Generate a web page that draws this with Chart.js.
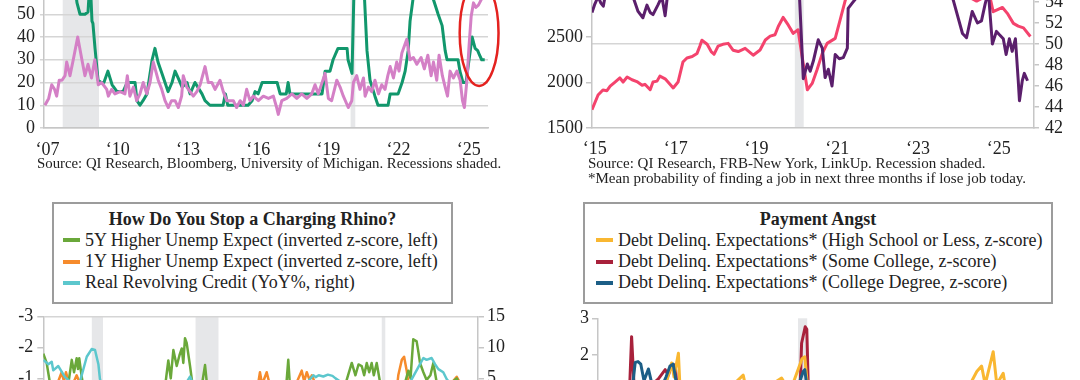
<!DOCTYPE html>
<html>
<head>
<meta charset="utf-8">
<script src="https://cdn.jsdelivr.net/npm/chart.js@4.4.0/dist/chart.umd.min.js"></script>
<style>
  html, body { margin: 0; padding: 0; background: #fff; }
  body { position: relative; width: 1080px; height: 380px; overflow: hidden; font-family: "Liberation Serif", serif; color: #222; }
  .pane { position: absolute; }
  .src { position: absolute; font-size: 15px; line-height: 14.5px; white-space: nowrap; color: #222; }
  .box { position: absolute; box-sizing: border-box; border: 2px solid #9c9c9c; background: #fff; padding-top: 4.5px; font-size: 18px; line-height: 21.3px; white-space: nowrap; }
  .box .ttl { text-align: center; font-weight: bold; }
  .box .item { display: flex; align-items: center; }
  .box .sw { display: inline-block; width: 17px; height: 4px; margin-right: 5px; }
</style>
</head>
<body>

<div class="pane" style="left:0; top:-80px;"><canvas id="chartUncert" width="540" height="260"></canvas></div>
<div class="pane" style="left:540px; top:-80px;"><canvas id="chartJobs" width="540" height="260"></canvas></div>
<div class="pane" style="left:0; top:300px;"><canvas id="chartRhino" width="540" height="230"></canvas></div>
<div class="pane" style="left:540px; top:300px;"><canvas id="chartAngst" width="540" height="230"></canvas></div>

<div class="src" style="left:37px; top:156px; font-size:14.8px;">Source: QI Research, Bloomberg, University of Michigan. Recessions shaded.</div>
<div class="src" style="left:588px; top:156px;">Source: QI Research, FRB-New York, LinkUp. Recession shaded.<br>*Mean probability of finding a job in next three months if lose job today.</div>

<div class="box" style="left:52px; top:202px; width:401px; height:102px;">
  <div class="ttl">How Do You Stop a Charging Rhino?</div>
  <div class="item" style="padding-left:9px;"><span class="sw" style="background:#6aa83a"></span>5Y Higher Unemp Expect (inverted z-score, left)</div>
  <div class="item" style="padding-left:9px;"><span class="sw" style="background:#f68b2c"></span>1Y Higher Unemp Expect (inverted z-score, left)</div>
  <div class="item" style="padding-left:9px;"><span class="sw" style="background:#5cc7cd"></span>Real Revolving Credit (YoY%, right)</div>
</div>

<div class="box" style="left:583px; top:202px; width:470px; height:102px;">
  <div class="ttl">Payment Angst</div>
  <div class="item" style="padding-left:11px;"><span class="sw" style="background:#f9b731"></span>Debt Delinq. Expectations* (High School or Less, z-score)</div>
  <div class="item" style="padding-left:11px;"><span class="sw" style="background:#a8213b"></span>Debt Delinq. Expectations* (Some College, z-score)</div>
  <div class="item" style="padding-left:11px;"><span class="sw" style="background:#1c5e86"></span>Debt Delinq. Expectations* (College Degree, z-score)</div>
</div>

<script>
// ---- top left: uncertainty measures ----
const uncertTicks = [2007, 2010, 2013, 2016, 2019, 2022, 2025];
const uncertRecessions = [[2007.65, 2009.2], [2019.95, 2020.15]];
const circleCenter = [2025.44, 41.8];
const circleRadius = [0.83, 23.3];

const greenYears = [
  2008.17,2008.26,2008.39,2008.6,2008.73,2008.82,2008.9,2008.94,2009.03,2009.16,
  2009.29,2009.41,2009.58,2009.76,2009.97,2010.23,2010.4,2010.61,2010.74,2010.82,
  2010.95,2011.08,2011.25,2011.47,2011.59,2011.72,2011.89,2012.02,2012.15,2012.32,
  2012.45,2012.58,2012.75,2012.96,2013.09,2013.3,2013.6,2013.73,2013.94,2014.5,
  2014.6,2014.7,2015.44,2015.57,2015.74,2015.87,2016.0,2016.17,2016.81,2016.94,
  2017.2,2017.28,2017.36,2018.73,2018.86,2019.07,2019.2,2019.41,2019.8,2019.84,
  2020.01,2020.05,2020.15,2020.35,2020.53,2020.65,2020.78,2020.99,2021.12,2021.55,
  2021.64,2021.98,2022.15,2022.28,2022.41,2022.49,2022.62,2022.8,2023.1,2023.3,
  2023.47,2023.69,2023.86,2023.99,2024.07,2024.54,2024.62,2024.75,2024.88,2025.14,
  2025.27,2025.38,2025.46,2025.55,2025.68
];
const greenVals = [
  62,55,50,50,51,66,47,46,35,21,
  20,20,25,19,16,16,20,20,20,12,
  10,12,15,30,35,29,24,20,16,20,
  25,22,18,20,15,20,15,12,10,10,
  15,10,10,10,12,16,15,20,20,15,
  15,20,15,15,25,25,30,35,35,30,
  24,24,85,90,60,34,21,14,10,10,
  15,15,20,25,34,47,57,70,72,65,
  57,50,45,34,30,30,25,20,20,40,
  35,34,32,30,30
];

const pinkYears = [
  2006.89,2007.05,2007.18,2007.3,2007.39,2007.5,2007.62,2007.75,2007.82,2007.96,
  2008.1,2008.29,2008.47,2008.6,2008.73,2008.88,2009.02,2009.17,2009.31,2009.53,
  2009.6,2009.74,2009.88,2010.1,2010.31,2010.41,2010.52,2010.67,2010.81,2010.95,
  2011.09,2011.24,2011.38,2011.52,2011.73,2011.88,2012.02,2012.16,2012.3,2012.45,
  2012.59,2012.73,2012.8,2012.95,2013.09,2013.23,2013.38,2013.52,2013.73,2013.87,
  2014.02,2014.16,2014.37,2014.51,2014.66,2014.8,2014.94,2015.08,2015.23,2015.37,
  2015.51,2015.65,2015.79,2016.01,2016.22,2016.44,2016.65,2016.79,2016.86,2017.01,
  2017.22,2017.44,2017.65,2017.86,2018.08,2018.29,2018.43,2018.57,2018.86,2019.0,
  2019.14,2019.36,2019.5,2019.64,2019.85,2020.0,2020.07,2020.21,2020.35,2020.5,
  2020.57,2020.71,2020.85,2020.99,2021.14,2021.28,2021.42,2021.54,2021.64,2021.78,
  2021.92,2022.02,2022.14,2022.35,2022.49,2022.63,2022.78,2022.96,2023.1,2023.25,
  2023.39,2023.49,2023.63,2023.73,2023.87,2023.99,2024.09,2024.2,2024.34,2024.49,
  2024.63,2024.73,2024.81,2024.92,2025.01,2025.1,2025.2,2025.3,2025.41,2025.56,
  2025.62
];
const pinkVals = [
  10,13,19,17,14,21,21,23,29,23,
  30,40,30,23,28,22,30,19,20,17,
  14,17,15,16,15,23,14,18,12,15,
  20,15,20,29,21,17,12,9,12,12,
  9,14,23,18,16,14,16,19,27,20,
  20,17,21,16,12,12,12,9,12,10,
  17,12,14,12,14,13,14,9,6,12,
  13,15,13,15,13,15,19,15,24,13,
  12,21,18,14,9,12,20,23,17,22,
  14,18,16,21,15,19,17,23,27,22,
  29,25,33,39,30,31,28,31,26,32,
  23,29,21,32,23,18,14,25,22,25,
  21,12,9,21,36,49,55,53,54,57,
  58
];

// ---- top right: job openings vs job finding ----
const jobsTicks = [2015, 2017, 2019, 2021, 2023, 2025];
const openingsTicks = [1500, 2000, 2500, 3000, 3500];
const findingTicks = [42, 44, 46, 48, 50, 52, 54, 56, 58, 60];
const jobsRecessions = [[2019.95, 2020.17]];

const openingsYears = [
  2014.93,2015.08,2015.2,2015.3,2015.38,2015.5,2015.62,2015.7,2015.8,2015.92,
  2016.04,2016.17,2016.24,2016.37,2016.44,2016.54,2016.61,2016.74,2016.86,2016.94,
  2017.06,2017.18,2017.28,2017.41,2017.53,2017.6,2017.65,2017.78,2017.88,2017.95,
  2018.05,2018.17,2018.3,2018.42,2018.55,2018.72,2018.92,2019.09,2019.22,2019.34,
  2019.46,2019.54,2019.66,2019.79,2019.91,2020.03,2020.13,2020.26,2020.38,2020.5,
  2020.63,2020.75,2020.95,2021.07,2021.2,2021.4,2021.7,2022.0,2022.4,2022.8,
  2023.2,2023.6,2024.0,2024.3,2024.45,2024.6,2024.79,2024.86,2025.09,2025.21,
  2025.36,2025.48,2025.61,2025.78
];
const openingsVals = [
  1700,1863,1918,1910,1960,2005,2050,2005,2060,2030,
  2010,1970,1980,1920,2005,2015,2070,2040,1980,1940,
  2005,2225,2270,2285,2320,2400,2465,2420,2340,2310,
  2400,2420,2430,2355,2340,2375,2300,2357,2467,2510,
  2525,2615,2715,2630,2540,2580,2285,1920,1990,2140,
  2320,2430,2485,2685,2905,3150,3350,3450,3500,3400,
  3250,3100,3000,2930,2895,2930,2920,2778,2825,2760,
  2650,2620,2600,2505
];

const findingYears = [
  2014.93,2015.0,2015.08,2015.15,2015.21,2015.3,2015.5,2015.7,2015.9,2016.07,
  2016.19,2016.29,2016.37,2016.44,2016.56,2016.66,2016.74,2016.81,2017.0,2017.5,
  2018.0,2018.5,2019.0,2019.5,2019.9,2020.06,2020.16,2020.26,2020.33,2020.41,
  2020.53,2020.63,2020.7,2020.78,2020.87,2020.95,2021.05,2021.15,2021.25,2021.27,
  2021.37,2021.6,2022.0,2022.5,2023.0,2023.5,2023.8,2023.87,2024.1,2024.2,
  2024.34,2024.47,2024.57,2024.66,2024.74,2024.84,2024.94,2025.01,2025.11,2025.18,
  2025.26,2025.33,2025.41,2025.48,2025.51,2025.58,2025.63,2025.71
];
const findingVals = [
  53.0,53.8,54.5,53.9,53.6,55.5,56,55.5,55,53.1,
  52.5,53.7,53.0,52.8,53.7,54.5,52.7,55,56.5,57,
  57.5,57,58,57.5,57,55,46.7,48.1,47.4,48.4,
  50.4,49.6,46.8,47.6,46.0,49.0,48.6,48.7,49.6,53.4,
  53.9,55,57,58,57,56,55,54.2,51.0,50.6,
  53.1,52.0,52.2,53.8,55,50.0,51.2,50.9,50.5,49.0,
  50.5,49.3,50.5,46.5,44.6,46.5,47.2,46.5
];

// ---- bottom left: charging rhino ----
const rhinoRecessions = [[2001.17, 2001.9], [2007.95, 2009.45], [2020.12, 2020.35]];

const unemp5Years = [
  1998.0,1998.22,1998.45,1998.7,1999.0,1999.3,1999.6,1999.86,2000.01,2000.18,
  2000.27,2000.35,2000.51,2000.7,2001.0,2001.5,2002.0,2003.0,2004.0,2005.0,
  2005.6,2006.0,2006.17,2006.33,2006.5,2006.72,2006.9,2007.05,2007.15,2007.26,
  2007.37,2007.59,2007.75,2008.0,2008.4,2008.57,2008.7,2009.0,2009.5,2010.0,
  2011.0,2012.0,2013.0,2013.9,2014.01,2014.1,2015.0,2016.0,2017.0,2017.8,
  2018.16,2018.4,2018.6,2018.81,2018.97,2019.14,2019.3,2019.46,2019.6,2019.79,
  2020.0,2020.3,2020.6,2021.0,2021.5,2021.86,2022.0,2022.18,2022.4,2022.5,
  2022.62,2022.84,2023.05,2023.3,2023.49,2023.7,2024.0,2024.5,2025.02,2025.3,
  2025.6
];
const unemp5Vals = [
  -1.8,-1.5,-0.8,-0.4,-0.6,-0.9,-0.7,-1.6,-1.2,-1.65,
  -1.3,-1.65,-1.05,-0.5,0.3,0.8,0.5,0.2,-0.2,-0.4,
  -0.7,-0.9,-1.58,-1.0,-1.92,-1.4,-1.75,-1.97,-1.5,-2.3,
  -2.15,-1.4,-0.8,-0.6,-0.9,-1.43,-0.8,0.5,1.2,0.8,
  0.5,0.2,-0.3,-0.9,-1.6,-0.9,-0.5,-0.3,-0.6,-0.9,
  -1.5,-1.1,-1.45,-1.4,-1.1,-1.5,-1.2,-1.5,-1.1,-1.5,
  -0.9,1.0,0.6,0.0,-0.6,-1.25,-1.0,-2.27,-2.2,-1.9,
  -1.5,-1.2,-0.95,-1.1,-1.5,-0.9,-0.6,-0.8,-1.0,-0.7,
  -0.5
];

const unemp1Years = [
  1998.0,1998.5,1998.9,1999.2,1999.35,1999.48,1999.7,2000.0,2000.18,2000.5,
  2001.0,2003.0,2005.0,2007.0,2009.0,2011.0,2012.0,2012.16,2012.3,2012.6,
  2012.8,2013.5,2014.5,2014.89,2015.05,2015.22,2015.4,2015.55,2015.8,2017.0,
  2019.0,2020.0,2020.4,2021.0,2021.2,2021.43,2021.58,2021.75,2021.9,2023.0,
  2024.0,2024.6,2025.02,2025.3
];
const unemp1Vals = [
  -0.5,-0.7,-0.8,-1.2,-0.9,-1.2,-0.8,-0.9,-1.1,-0.7,
  0.2,0.1,-0.3,-0.5,1.0,0.3,-0.7,-1.2,-0.8,-1.2,
  -0.8,-0.6,-0.8,-1.25,-0.9,-1.2,-0.95,-1.1,-0.8,-0.6,
  -0.7,-0.5,1.5,-0.2,-1.1,-1.6,-1.7,-1.25,-0.7,-0.6,
  -0.5,-0.8,-1.05,-0.8
];

const revolvYears = [
  1998.0,1998.33,1998.55,1998.65,1998.98,1999.2,1999.42,1999.75,2000.4,2000.84,
  2001.16,2001.38,2001.6,2001.7,2002.0,2003.0,2004.0,2005.0,2006.0,2007.0,
  2007.4,2007.59,2007.8,2008.5,2009.5,2010.5,2011.5,2012.5,2013.5,2014.5,
  2015.3,2015.65,2015.8,2016.0,2016.3,2016.6,2016.9,2017.1,2017.4,2018.5,
  2019.5,2020.3,2021.0,2022.0,2022.62,2022.84,2023.05,2023.38,2023.6,2023.82,
  2024.14,2024.36,2024.8,2025.3
];
const revolvVals = [
  8.0,7.3,7.7,6.3,7.0,6.1,5.2,4.5,4.5,8.5,
  9.75,9.6,7.3,4.9,2.5,1.0,0.5,1.5,2.0,3.5,
  4.5,5.3,4.0,0.0,-10,-11,-5,-1,0.5,2.5,
  4.5,5.5,5.2,5.5,5.3,5.6,5.4,5.0,4.5,3.0,
  2.5,-5,-12,4.5,7.3,8.3,8.0,8.3,7.3,6.5,
  6.0,4.9,3.5,3.0
];

// ---- bottom right: payment angst ----
const angstRecessions = [[2020.1, 2020.33]];

const someCollegeYears = [
  2015.88,2015.94,2016.0,2016.15,2016.35,2016.61,2016.78,2016.86,2016.94,2017.03,
  2017.07,2017.3,2017.8,2018.3,2018.8,2019.3,2019.8,2020.15,2020.19,2020.28,
  2020.32,2020.36,2020.6,2021.0,2022.0,2023.0,2024.0,2024.7,2025.0,2025.3
];
const someCollegeVals = [
  0.8,2.5,1.2,0.9,1.1,1.35,1.6,1.45,1.73,1.73,
  1.2,0.8,0.6,0.5,0.4,0.3,0.4,1.0,2.32,2.77,
  2.7,1.0,0.3,-0.2,-0.5,-0.2,0.2,0.8,1.0,0.7
];

const degreeYears = [
  2015.88,2015.97,2016.03,2016.1,2016.17,2016.25,2016.36,2016.45,2016.6,2016.8,
  2016.9,2016.98,2017.05,2017.3,2018.0,2019.0,2019.9,2020.23,2020.27,2020.35,
  2020.6,2021.0,2022.0,2023.0,2024.0,2024.7,2025.3
];
const degreeVals = [
  0.8,1.2,1.8,1.82,1.75,1.3,1.62,1.2,0.9,1.4,
  1.7,1.75,1.3,0.9,0.6,0.4,0.5,1.55,1.6,0.9,
  0.2,-0.4,-0.6,-0.3,0.1,0.5,0.6
];

const highSchoolYears = [
  2015.88,2016.5,2016.8,2016.94,2017.0,2017.11,2017.15,2017.5,2018.3,2018.73,
  2018.8,2019.3,2019.69,2019.9,2020.2,2020.27,2020.35,2021.0,2022.0,2023.0,
  2024.0,2024.4,2024.57,2024.69,2024.78,2024.98,2025.07,2025.23,2025.29
];
const highSchoolVals = [
  0.6,0.9,1.2,1.78,1.4,2.05,1.1,0.9,1.0,1.45,
  1.1,1.1,1.37,1.0,1.9,1.95,1.0,0.3,0.4,0.7,
  1.0,1.2,1.55,1.7,1.2,2.09,1.2,1.5,1.1
];

// ---------------------------------------------------------
const SERIF = '"Liberation Serif", "Times New Roman", serif';
const AXIS = '#c6c6c6';
const GRID = '#d5d5d5';
const tickFont = { family: SERIF, size: 18 };

Chart.defaults.font.family = SERIF;
Chart.defaults.color = '#222';
Chart.defaults.animation = false;

// recession bars go under the grid
const shadePlugin = {
  id: 'shade',
  beforeDraw(chart, args, opts) {
    if (!opts.bands) return;
    const { ctx, chartArea, scales } = chart;
    ctx.save();
    ctx.fillStyle = '#e6e7e9';
    opts.bands.forEach(([a, b]) => {
      const x1 = scales.x.getPixelForValue(a);
      const x2 = scales.x.getPixelForValue(b);
      ctx.fillRect(x1, chartArea.top, x2 - x1, chartArea.bottom - chartArea.top);
    });
    ctx.restore();
  }
};

const circlePlugin = {
  id: 'circle',
  afterDatasetsDraw(chart, args, opts) {
    if (!opts.center) return;
    const { ctx, scales } = chart;
    const cx = scales.x.getPixelForValue(opts.center[0]);
    const cy = scales.y.getPixelForValue(opts.center[1]);
    const rx = Math.abs(scales.x.getPixelForValue(opts.center[0] + opts.radius[0]) - cx);
    const ry = Math.abs(scales.y.getPixelForValue(opts.center[1] + opts.radius[1]) - cy);
    ctx.save();
    ctx.strokeStyle = '#e4221f';
    ctx.lineWidth = 2.5;
    ctx.beginPath();
    ctx.ellipse(cx, cy, rx, ry, 0, 0, Math.PI * 2);
    ctx.stroke();
    ctx.restore();
  }
};

function series(xs, ys, color, width, axis, order) {
  return {
    data: xs.map((x, i) => ({ x: x, y: ys[i] })),
    borderColor: color,
    borderWidth: width,
    pointRadius: 0,
    tension: 0,
    borderJoinStyle: 'round',
    yAxisID: axis,
    order: order
  };
}

const yearLabel = v => '\u2018' + String(v).slice(2);
const plainLabel = v => String(v);
const fixedTicks = list => (s => { s.ticks = list.map(v => ({ value: v })); });

function xAxis(min, max, ticks, height, pad) {
  return {
    type: 'linear', min: min, max: max,
    afterBuildTicks: fixedTicks(ticks),
    ticks: { display: ticks.length > 0, callback: yearLabel, font: tickFont, color: '#222', padding: pad, maxRotation: 0, autoSkip: false },
    grid: { display: false },
    border: { display: true, color: AXIS, width: 1.5 },
    afterFit: s => { s.height = height; }
  };
}

function baseOptions(padding, scales, plugins) {
  return {
    responsive: false,
    animation: false,
    layout: { padding: padding, autoPadding: false },
    plugins: Object.assign({ legend: { display: false }, tooltip: { enabled: false } }, plugins),
    scales: scales
  };
}

// top left
new Chart(document.getElementById('chartUncert'), {
  type: 'line',
  data: { datasets: [
    series(pinkYears, pinkVals, '#d480c6', 3, 'y', 0),
    series(greenYears, greenVals, '#11976c', 3, 'y', 1)
  ] },
  options: baseOptions({ top: 26, right: 52, left: 0, bottom: 0 }, {
    x: xAxis(2006.85, 2025.82, uncertTicks, 52, 3),
    y: {
      min: 0, max: 80,
      ticks: { stepSize: 10, autoSkip: false, callback: plainLabel, font: tickFont, color: '#222', padding: 5 },
      grid: { color: GRID, lineWidth: 1.5, tickLength: 4 },
      border: { color: AXIS, width: 1.5 },
      afterFit: s => { s.width = 44; }
    }
  }, { shade: { bands: uncertRecessions }, circle: { center: circleCenter, radius: circleRadius } }),
  plugins: [shadePlugin, circlePlugin]
});

// top right
new Chart(document.getElementById('chartJobs'), {
  type: 'line',
  data: { datasets: [
    series(findingYears, findingVals, '#5b1f6c', 3, 'yR', 0),
    series(openingsYears, openingsVals, '#f4436d', 3, 'yL', 1)
  ] },
  options: baseOptions({ top: 19, right: 0, left: 0, bottom: 0 }, {
    x: xAxis(2014.93, 2025.87, jobsTicks, 52, 2),
    yL: {
      position: 'left', min: 1500, max: 3577,
      afterBuildTicks: fixedTicks(openingsTicks),
      ticks: { autoSkip: false, callback: plainLabel, font: tickFont, color: '#222', padding: 3 },
      grid: { drawOnChartArea: false, tickLength: 6, tickColor: AXIS, lineWidth: 1.5 },
      border: { color: AXIS, width: 1.5 },
      afterFit: s => { s.width = 52; }
    },
    yR: {
      position: 'right', min: 42, max: 60,
      afterBuildTicks: fixedTicks(findingTicks),
      ticks: { autoSkip: false, callback: plainLabel, font: tickFont, color: '#222', padding: 6 },
      grid: { color: c => c.tick && c.tick.value === 50 ? GRID : 'transparent', tickColor: AXIS, tickLength: 5, lineWidth: 1.5 },
      border: { color: AXIS, width: 1.5 },
      afterFit: s => { s.width = 46; }
    }
  }, { shade: { bands: jobsRecessions } }),
  plugins: [shadePlugin]
});

// bottom left
new Chart(document.getElementById('chartRhino'), {
  type: 'line',
  data: { datasets: [
    series(revolvYears, revolvVals, '#5cc7cd', 2.5, 'yR', 0),
    series(unemp5Years, unemp5Vals, '#6aa83a', 2.5, 'yL', 1),
    series(unemp1Years, unemp1Vals, '#f68b2c', 2.5, 'yL', 2)
  ] },
  options: baseOptions({ top: 16.7, right: 0, left: 0, bottom: 0 }, {
    x: xAxis(1998.0, 2026.41, [], 28.3, 5),
    yL: {
      position: 'left', min: -3, max: 3, reverse: true,
      ticks: { stepSize: 1, autoSkip: false, callback: plainLabel, font: tickFont, color: '#222', padding: 4 },
      grid: { color: c => c.tick && c.tick.value === -3 ? GRID : 'transparent', tickColor: AXIS, tickLength: 6, lineWidth: 1.5 },
      border: { color: AXIS, width: 1.5 },
      afterFit: s => { s.width = 43.3; }
    },
    yR: {
      position: 'right', min: -15, max: 15,
      ticks: { stepSize: 5, autoSkip: false, callback: plainLabel, font: tickFont, color: '#222', padding: 3 },
      grid: { drawOnChartArea: false, tickColor: AXIS, tickLength: 6, lineWidth: 1.5 },
      border: { color: AXIS, width: 1.5 },
      afterFit: s => { s.width = 62; }
    }
  }, { shade: { bands: rhinoRecessions } }),
  plugins: [shadePlugin]
});

// bottom right
new Chart(document.getElementById('chartAngst'), {
  type: 'line',
  data: { datasets: [
    series(degreeYears, degreeVals, '#1c5e86', 3, 'y', 0),
    series(highSchoolYears, highSchoolVals, '#f9b731', 3, 'y', 1),
    series(someCollegeYears, someCollegeVals, '#a8213b', 3, 'y', 2)
  ] },
  options: baseOptions({ top: 18.3, right: 40, left: 0, bottom: 0 }, {
    x: xAxis(2015.1, 2026.15, [], 28.2, 5),
    y: {
      min: -2, max: 3,
      ticks: { stepSize: 1, autoSkip: false, callback: plainLabel, font: tickFont, color: '#222', padding: 3 },
      grid: { drawOnChartArea: false, tickColor: AXIS, tickLength: 6, lineWidth: 1.5 },
      border: { color: AXIS, width: 1.5 },
      afterFit: s => { s.width = 58; }
    }
  }, { shade: { bands: angstRecessions } }),
  plugins: [shadePlugin]
});
</script>
</body>
</html>
